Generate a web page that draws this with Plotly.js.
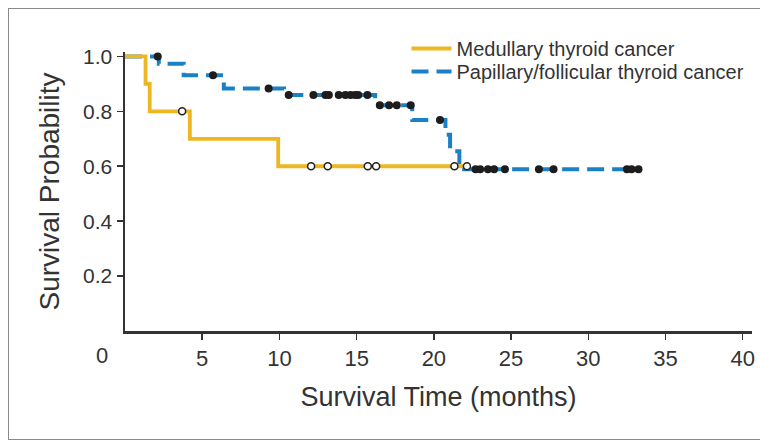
<!DOCTYPE html>
<html>
<head>
<meta charset="utf-8">
<script src="https://cdn.plot.ly/plotly-3.0.1.min.js"></script>
<style>
  html, body { margin: 0; padding: 0; background: #fff; }
  #wrap { position: relative; width: 760px; height: 443px; }
  #chart { position: absolute; left: 0; top: 0; width: 760px; height: 443px; }
  #frame { position: absolute; left: 8px; top: 8px; width: 760px; height: 432px;
           border-top: 1.5px solid #8a8a8a; border-left: 1.5px solid #8a8a8a; border-bottom: 1.5px solid #8a8a8a;
           pointer-events: none; box-sizing: border-box; }
</style>
</head>
<body>
<div id="wrap">
  <div id="chart"></div>
  <div id="frame"></div>
</div>
<script>
// Medullary thyroid cancer: step curve (event times, survival after step)
const medTimes = [0, 1.33, 1.6, 4.2, 9.92, 22.14];
const medSurv  = [1.0, 0.9, 0.8, 0.7, 0.6, 0.6];
// Medullary censored observations
const medCensTimes = [3.7, 12.05, 13.13, 15.72, 16.26, 21.33, 22.14];
const medCensSurv  = [0.8, 0.6, 0.6, 0.6, 0.6, 0.6, 0.6];

// Papillary/follicular thyroid cancer: step curve
const papTimes = [0, 2.19, 3.8, 6.4, 10.3, 16.2, 18.6, 20.75, 21.05, 21.65, 33.4];
const papSurv  = [1.0, 0.973, 0.931, 0.883, 0.859, 0.822, 0.768, 0.715, 0.655, 0.589, 0.589];
// Papillary/follicular censored observations
const papCensTimes = [2.12, 5.7, 9.3, 10.6, 12.2, 12.98, 13.2, 13.84, 14.27, 14.6, 14.9, 15.1, 15.7,
                      16.5, 17.1, 17.6, 18.5, 20.4, 22.7, 23.0, 23.5, 23.9, 24.6, 26.8, 27.75, 32.5, 32.8, 33.25];
const papCensSurv  = [1.0, 0.931, 0.883, 0.859, 0.859, 0.859, 0.859, 0.859, 0.859, 0.859, 0.859, 0.859, 0.859,
                      0.822, 0.822, 0.822, 0.822, 0.768, 0.589, 0.589, 0.589, 0.589, 0.589, 0.589, 0.589, 0.589, 0.589, 0.589];

const seriesNames = ["Medullary thyroid cancer", "Papillary/follicular thyroid cancer"];
const xTickVals = [5, 10, 15, 20, 25, 30, 35, 40];
const yTickVals = [0.2, 0.4, 0.6, 0.8, 1.0];
const yTickText = ["0.2", "0.4", "0.6", "0.8", "1.0"];

const gold = "#EDB622";
const blue = "#1C80C6";

const traces = [
  { x: papTimes, y: papSurv, type: "scatter", mode: "lines", line: { shape: "hv", color: blue, width: 4, dash: "17px,8px" },
    name: seriesNames[1], showlegend: true, legend: "legend2", hoverinfo: "skip" },
  { x: medTimes, y: medSurv, type: "scatter", mode: "lines", line: { shape: "hv", color: gold, width: 3.8 },
    name: seriesNames[0], showlegend: true, legend: "legend", hoverinfo: "skip" },
  { x: papCensTimes, y: papCensSurv, type: "scatter", mode: "markers",
    marker: { size: 8, color: "#1d1d1d" }, showlegend: false, hoverinfo: "skip" },
  { x: medCensTimes, y: medCensSurv, type: "scatter", mode: "markers",
    marker: { size: 7, color: "#ffffff", line: { color: "#222", width: 1.5 } }, showlegend: false, hoverinfo: "skip" }
];

const legendBase = { x: 0.449, xanchor: "left", yanchor: "middle",
  font: { size: 20, color: "#333" }, bgcolor: "rgba(0,0,0,0)", itemwidth: 40 };

const layout = {
  width: 760, height: 443,
  margin: { l: 124.5, r: 8, t: 51.5, b: 112 },
  paper_bgcolor: "#ffffff", plot_bgcolor: "#ffffff",
  font: { family: "Liberation Sans, Arial, sans-serif", color: "#333" },
  showlegend: true,
  legend: Object.assign({}, legendBase, { y: 1.0125 }),
  legend2: Object.assign({}, legendBase, { y: 0.93 }),
  xaxis: {
    range: [0, 40.6], tickvals: xTickVals, ticks: "outside", ticklen: 6, tickwidth: 1.5, tickcolor: "#333",
    showline: true, linecolor: "#333", linewidth: 2.5, showgrid: false, zeroline: false,
    tickfont: { size: 22, color: "#333" },
    title: { text: "Survival Time (months)", font: { size: 27, color: "#333" }, standoff: 17 },
    automargin: false, fixedrange: true
  },
  yaxis: {
    range: [0, 1.016], tickvals: yTickVals, ticktext: yTickText, ticks: "outside", ticklen: 6, tickwidth: 1.5, tickcolor: "#333",
    showline: true, linecolor: "#333", linewidth: 2.5, showgrid: false, zeroline: false,
    tickfont: { size: 21, color: "#333" },
    title: { text: "Survival Probability", font: { size: 28, color: "#333" }, standoff: 16 },
    automargin: false, fixedrange: true
  },
  annotations: [
    { x: 0, y: 0, xref: "x", yref: "y", text: "0", showarrow: false, xanchor: "center", yanchor: "top",
      xshift: -23, yshift: -10, font: { size: 22, color: "#333" } }
  ]
};

Plotly.newPlot("chart", traces, layout, { staticPlot: true, displayModeBar: false });
</script>
</body>
</html>
